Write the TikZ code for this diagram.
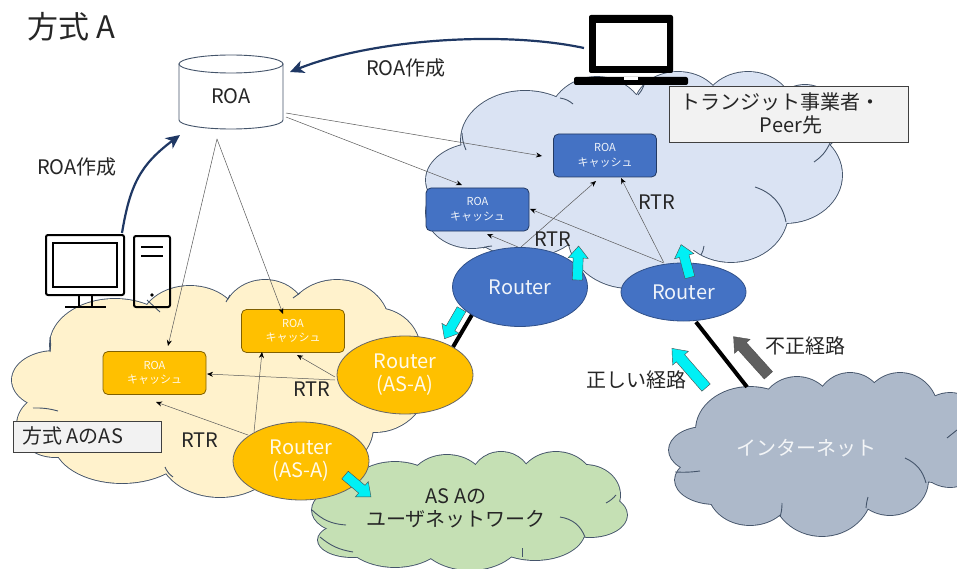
\documentclass[tikz,border=0pt]{standalone}
\usepackage{fontspec}
\setmainfont{Noto Sans CJK JP}
\usetikzlibrary{arrows.meta}
\definecolor{cloudedge}{HTML}{44546A}
\definecolor{bluecloud}{HTML}{DAE3F3}
\definecolor{yellowcloud}{HTML}{FFF2CC}
\definecolor{greencloud}{HTML}{C5E0B4}
\definecolor{netcloud}{HTML}{ADB9CA}
\definecolor{nodeblue}{HTML}{4472C4}
\definecolor{nodeyellow}{HTML}{FFC000}
\definecolor{flowcyan}{HTML}{00F0F5}
\definecolor{flowgrey}{HTML}{5F5F5F}
\definecolor{navy}{HTML}{1F3864}
\definecolor{labelgrey}{HTML}{262626}
\newcommand{\cloudblob}[3]{%
  \foreach \cx/\cy/\rx/\ry in {#2} {\draw[cloudedge,line width=1.8pt] (\cx,\cy) ellipse [x radius=\rx,y radius=\ry];}
  \foreach \cx/\cy/\rx/\ry in {#2,#3} {\fill[#1] (\cx,\cy) ellipse [x radius=\rx,y radius=\ry];}
}
% centre, angle, length, body width, head width, head length, colour
\newcommand{\flowarrow}[7]{%
  \begin{scope}[shift={(#1)},rotate=#2]
    \pgfmathsetmacro{\fa}{#3/2}\pgfmathsetmacro{\fb}{#3/2-#6}
    \pgfmathsetmacro{\fc}{#4/2}\pgfmathsetmacro{\fd}{#5/2}
    \filldraw[draw=black!70,line width=0.4pt,fill=#7] (-\fa,-\fc) -- (\fb,-\fc) -- (\fb,-\fd) -- (\fa,0) -- (\fb,\fd) -- (\fb,\fc) -- (-\fa,\fc) -- cycle;
  \end{scope}}
\tikzset{
  x=1pt,y=-1pt,
  lbl/.style={font=\fontsize{20}{23}\selectfont,text=labelgrey,inner sep=0pt},
  rtr/.style={draw=black!65,line width=0.5pt,-{Stealth[length=6pt,width=5pt,color=black]}},
  inner cloud/.style={cloudedge,line width=0.9pt},
  cache/.style={rounded corners=5pt,minimum width=103pt,minimum height=43pt,draw=#1!50!black,fill=#1,line width=0.8pt,
     text=white!92!#1,align=center,inner sep=0pt,font=\fontsize{11}{14.5}\selectfont},
  router/.style={inner sep=0pt,text=white!92!#1,align=center,font=\fontsize{20}{23}\selectfont},
  link/.style={black,line width=4pt},
  make/.style={navy,line width=2.2pt,-{Stealth[length=14pt,width=13pt,inset=4pt]}},
  note/.style={draw=black!75,fill=black!5,line width=0.8pt,inner sep=0pt},
  pcline/.style={black,line width=2pt,rounded corners=2pt}
}
\begin{document}
\begin{tikzpicture}
\useasboundingbox (0,0) rectangle (957,569);
\clip (0,0) rectangle (957,569);
\fill[white] (0,0) rectangle (957,569);

% --- clouds
\cloudblob{bluecloud}{525/140/64/49,597/125/50/48,678/108/44/36,748/112/46/40,805/120/35/35,785/175/57/48,731/212/57/50,630/235/62/53,525/215/60/42,472/212/46/36,480/180/54/37}{640/175/150/80}
\draw[inner cloud] (462,133) to[bend right=10] (466,150);
\draw[inner cloud] (560,98) to[bend left=15] (573,104);
\draw[inner cloud] (638,95) to[bend right=10] (644,85);
\draw[inner cloud] (814,162) to[bend right=15] (830,143);
\draw[inner cloud] (755,187) to[bend left=30] (786,222);
\draw[inner cloud] (704,246) to[bend left=10] (701,255);
\draw[inner cloud] (483,248) to[bend left=10] (492,246);

\cloudblob{yellowcloud}{55/380/43/29,115/345/65/46,190/325/50/39,265/318/42/38,337/325/52/45,375/350/45/42,375/375/55/57,320/427/53/45,220/450/62/47,122/442/68/41,55/425/38/32}{210/390/170/85}
\draw[inner cloud] (33,408) to[bend left=8] (58,411);
\draw[inner cloud] (50,352) to[bend right=8] (50,337);
\draw[inner cloud] (147,300) to (160,312);
\draw[inner cloud] (226,302) to (230,295);
\draw[inner cloud] (293,298) to (300,293);
\draw[inner cloud] (165,467) to[bend right=15] (173,477);

\cloudblob{greencloud}{345/510/33/22,352/540/34/17,395/495/48/33,447/485/38/30,501/480/30/28,556/485/38/33,585/495/35/30,590/515/37/22,535/530/50/30,470/530/55/40,395/530/55/37}{470/510/130/40}
\draw[inner cloud] (312,510) to[bend right=20] (346,525);
\draw[inner cloud] (320,537) to[bend right=15] (353,552);
\draw[inner cloud] (606,503) to[bend right=10] (616,495);
\draw[inner cloud] (560,517) to[bend left=30] (585,537);
\draw[inner cloud] (522,548) to (522,557);

\cloudblob{netcloud}{750/430/54/43,797/415/38/38,850/410/35/37,900/412/38/39,950/440/40/47,935/450/40/32,705/450/36/23,715/480/40/24,750/490/42/35,822/490/50/46,890/480/38/35}{820/445/110/55}
\draw[inner cloud] (675,472) to[bend right=5] (700,471);
\draw[inner cloud] (905,458) to[bend left=25] (926,483);
\draw[inner cloud] (947,438) to (957,430);
\draw[inner cloud] (780,517) to[bend right=8] (782,503);
\draw[inner cloud] (866,508) to[bend left=5] (868,497);

% --- ROA database
\draw[draw=cloudedge,line width=0.9pt,fill=white] (179,64) -- (179,120) arc[start angle=180,end angle=0,x radius=52,y radius=9] -- (283,64) -- cycle;
\draw[draw=cloudedge,line width=0.9pt,fill=white] (231,64) ellipse [x radius=52,y radius=9];
\node[lbl] (roa) at (231,96) {ROA};

% --- caches
\node[cache=nodeblue] (bc1) at (605,155.5) {ROA\\キャッシュ};
\node[cache=nodeblue] (bc2) at (477.5,209.5) {ROA\\キャッシュ};
\node[cache=nodeyellow] (yc1) at (154.5,373) {ROA\\キャッシュ};
\node[cache=nodeyellow] (yc2) at (293,331) {ROA\\キャッシュ};

% --- routers and internet labels
\coordinate (rb1) at (520,287);
\coordinate (rb2) at (683.5,292);
\coordinate (yr1) at (405,375);
\coordinate (yr2) at (301,461);
\node[lbl,text=white!85!netcloud] (inet) at (806,448) {インターネット};

% --- thick links
\draw[link] ([shift={(-47,26)}]rb1) -- ([shift={(48,-28)}]yr1);
\draw[link] ([shift={(12.5,30)}]rb2) -- ([shift={(-59,-61)}]inet.center);

% --- routers
\fill[nodeblue,draw=nodeblue!70!black,line width=0.8pt] (rb1) ellipse [x radius=67.5,y radius=39.5];
\fill[nodeblue,draw=nodeblue!70!black,line width=0.8pt] (rb2) ellipse [x radius=62.5,y radius=29];
\fill[nodeyellow,draw=black!60,line width=0.8pt] (yr1) ellipse [x radius=68,y radius=39];
\fill[nodeyellow,draw=black!60,line width=0.8pt] (yr2) ellipse [x radius=68,y radius=39];
\node[router=nodeblue] (rb1t) at (rb1) {Router};
\node[router=nodeblue] (rb2t) at (rb2) {Router};
\node[router=nodeyellow] (yr1t) at (yr1) {Router\\(AS-A)};
\node[router=nodeyellow] (yr2t) at (yr2) {Router\\(AS-A)};

% --- RTR connectors
\draw[rtr] ([shift={(55,17)}]roa.center) -- ([shift={(-63,0.5)}]bc1.center);
\draw[rtr] ([shift={(55,21)}]roa.center) -- ([shift={(-15.5,-24.5)}]bc2.center);
\draw[rtr] ([shift={(-14,43)}]roa.center) -- ([shift={(13.5,-27)}]yc1.center);
\draw[rtr] ([shift={(-14,43)}]roa.center) -- ([shift={(-10,-17)}]yc2.center);
\draw[rtr] ([shift={(-53,-26)}]yr2) -- ([shift={(1.5,29)}]yc1.center);
\draw[rtr] ([shift={(-47,-29)}]yr2) -- ([shift={(-31,21)}]yc2.center);
\draw[rtr] ([shift={(-70,5)}]yr1) -- ([shift={(52.5,1)}]yc1.center);
\draw[rtr] ([shift={(-70,2)}]yr1) -- ([shift={(4,24)}]yc2.center);
\draw[rtr] ([shift={(1,-40)}]rb1) -- ([shift={(-9,25.5)}]bc1.center);
\draw[rtr] ([shift={(-2,-40)}]rb1) -- ([shift={(9.5,24.5)}]bc2.center);
\draw[rtr] ([shift={(-19.5,-29)}]rb2) -- ([shift={(52.5,-0.5)}]bc2.center);
\draw[rtr] ([shift={(-20,-30)}]rb2) -- ([shift={(16,22.5)}]bc1.center);

% --- computers
\coordinate (pc) at (85,265);
\draw[pcline] (46,235) rectangle (124,295);
\draw[pcline,line width=1.8pt,rounded corners=0pt] (53,243) rectangle (117,287);
\draw[pcline,rounded corners=0pt] (79,295) -- (79,307) (92,295) -- (92,307) (65,307) -- (106,307);
\draw[pcline] (134,236) rectangle (170,307);
\draw[pcline,rounded corners=0pt] (141,247) -- (163,247) (141,256) -- (163,256);
\fill (152,295) circle (1.8);

\coordinate (laptop) at (631,45);
\fill[black,rounded corners=2pt] (589,15) rectangle (673,73);
\fill[white] (596,23) rectangle (667,66);
\fill[black,rounded corners=2pt] (574,77) rectangle (688,85);
\fill[white] (624,77) rectangle (638,80);

% --- ROA creation arrows
\draw[make] ([shift={(-47,3)}]laptop) .. controls (500,30) and (370,40) .. ([shift={(59,-24)}]roa.center);
\draw[make] ([shift={(37,-32)}]pc) .. controls (130,185) and (140,165) .. ([shift={(-51,39)}]roa.center);

% --- block arrows
\flowarrow{453,324}{240}{34}{10}{20}{12}{flowcyan}
\flowarrow{578,263}{88}{34}{10}{20}{12}{flowcyan}
\flowarrow{685.5,261}{105}{34}{10}{20}{12}{flowcyan}
\flowarrow{358,486}{-40}{34}{10}{20}{12}{flowcyan}
\flowarrow{689,368}{131}{52}{11}{21}{13}{flowcyan}
\flowarrow{751,356}{132}{52}{11}{21}{13}{flowgrey}

% --- note boxes
\node[note,minimum width=148pt,minimum height=31pt,anchor=north west] (b1) at (13,421) {};
\node[lbl,anchor=west] (b1t) at (22,436) {方式 AのAS};
\node[note,minimum width=239pt,minimum height=56pt,anchor=north west] (b2) at (669,86) {};
\node[lbl,anchor=west] (b2a) at (680,102) {トランジット事業者・};
\node[lbl] (b2b) at (791,125) {Peer先};

% --- labels
\node[lbl,font=\fontsize{31}{36}\selectfont] (title) at (71,27) {方式 A};
\node[lbl] (l1) at (406,68) {ROA作成};
\node[lbl] (l2) at (77,167) {ROA作成};
\node[lbl] (r1) at (553,239) {RTR};
\node[lbl] (r2) at (657,202) {RTR};
\node[lbl] (r3) at (312,389) {RTR};
\node[lbl] (r4) at (200,440) {RTR};
\node[lbl] (l3) at (636,380) {正しい経路};
\node[lbl] (l4) at (805,346) {不正経路};
\node[lbl,align=center] (u1) at (456,508) {AS Aの\\ユーザネットワーク};
\end{tikzpicture}
\end{document}
